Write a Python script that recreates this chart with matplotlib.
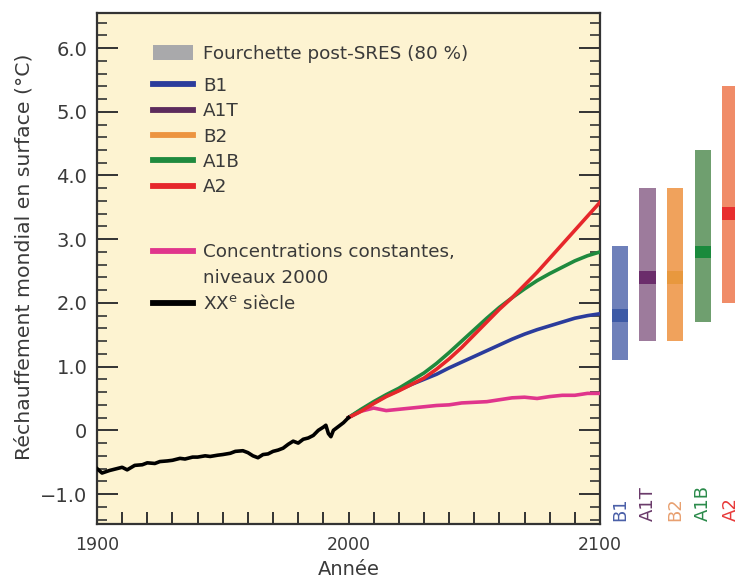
import matplotlib
matplotlib.use("Agg")
import matplotlib.pyplot as plt
from matplotlib.lines import Line2D
from matplotlib.patches import Patch
from matplotlib.ticker import MultipleLocator
import matplotlib.transforms as mtransforms

plt.rcParams['font.family'] = ['DejaVu Sans']
plt.rcParams['mathtext.fontset'] = 'dejavusans'
TXT = '#3a3a3a'

# ---------------- data ----------------
hist_years = [1900, 1902, 1905, 1908, 1910, 1912, 1915, 1918, 1920, 1923, 1925, 1928,
              1930, 1933, 1935, 1938, 1940, 1943, 1945, 1948, 1950, 1953, 1955, 1958,
              1960, 1962, 1964, 1966, 1968, 1970, 1972, 1974, 1976, 1978, 1980, 1982,
              1984, 1986, 1988, 1990, 1991, 1992, 1993, 1994, 1996, 1998, 2000]
hist_vals = [-0.60, -0.67, -0.63, -0.60, -0.58, -0.62, -0.55, -0.54, -0.51, -0.52, -0.49, -0.48,
             -0.47, -0.44, -0.45, -0.42, -0.42, -0.40, -0.41, -0.39, -0.38, -0.36, -0.33, -0.32,
             -0.35, -0.40, -0.43, -0.38, -0.37, -0.33, -0.31, -0.28, -0.22, -0.17, -0.20, -0.14,
             -0.12, -0.08, 0.00, 0.05, 0.08, -0.05, -0.10, 0.00, 0.06, 0.12, 0.20]

fut_years = [2000, 2005, 2010, 2015, 2020, 2025, 2030, 2035, 2040, 2045, 2050,
             2055, 2060, 2065, 2070, 2075, 2080, 2085, 2090, 2095, 2100]
a2_vals = [0.20, 0.30, 0.42, 0.53, 0.62, 0.72, 0.82, 0.96, 1.12, 1.30, 1.50,
           1.70, 1.90, 2.08, 2.28, 2.48, 2.70, 2.92, 3.14, 3.36, 3.58]
a1b_vals = [0.20, 0.33, 0.45, 0.56, 0.66, 0.78, 0.90, 1.05, 1.22, 1.40, 1.58,
            1.76, 1.93, 2.08, 2.22, 2.35, 2.46, 2.56, 2.66, 2.74, 2.80]
b1_vals = [0.20, 0.32, 0.43, 0.54, 0.63, 0.72, 0.80, 0.88, 0.98, 1.07, 1.16,
           1.25, 1.34, 1.43, 1.51, 1.58, 1.64, 1.70, 1.76, 1.80, 1.83]
const_vals = [0.20, 0.30, 0.35, 0.31, 0.33, 0.35, 0.37, 0.39, 0.40, 0.43, 0.44,
              0.45, 0.48, 0.51, 0.52, 0.50, 0.53, 0.55, 0.55, 0.58, 0.58]

scenarios = ['B1', 'A1T', 'B2', 'A1B', 'A2']
range_low = [1.1, 1.4, 1.4, 1.7, 2.0]
range_high = [2.9, 3.8, 3.8, 4.4, 5.4]
best_est = [1.8, 2.4, 2.4, 2.8, 3.4]

ytick_vals = [-1, 0, 1, 2, 3, 4, 5, 6]
ytick_labels = ['\u22121.0', '0', '1.0', '2.0', '3.0', '4.0', '5.0', '6.0']
xtick_vals = [1900, 2000, 2100]

# ---------------- styles ----------------
line_col = {'B1': '#2b3c9c', 'A1T': '#5c2b5c', 'B2': '#ec9440', 'A1B': '#1f8a3e',
            'A2': '#e6272b', 'const': '#e0358c', 'hist': '#000000'}
bar_col = ['#6e80ba', '#9d7b9c', '#f0a25c', '#6f9f6f', '#f08c68']
best_col = ['#3d5aa6', '#6b2d6b', '#e8983e', '#1a8a3c', '#e82e2e']
label_col = ['#4a5fa8', '#6a3a6a', '#e8a070', '#2a8a4a', '#e83a3a']

W, H = 735, 581
fig = plt.figure(figsize=(W / 100, H / 100), dpi=100)
fig.patch.set_facecolor('white')

ax = fig.add_axes([97 / W, (H - 524) / H, 503 / W, 511 / H])
ax.set_facecolor('#fdf3d1')
ylo, yhi = -1.47, 6.55
ax.set_xlim(1900, 2100)
ax.set_ylim(ylo, yhi)

lw = 2.6
ax.plot(fut_years, const_vals, color=line_col['const'], lw=lw, zorder=3)
ax.plot(fut_years, b1_vals, color=line_col['B1'], lw=lw, zorder=4)
ax.plot(fut_years, a1b_vals, color=line_col['A1B'], lw=lw, zorder=5)
ax.plot(fut_years, a2_vals, color=line_col['A2'], lw=lw, zorder=6)
ax.plot(hist_years, hist_vals, color=line_col['hist'], lw=lw, zorder=7)

# ticks
ax.set_xticks(xtick_vals)
ax.set_xticklabels([str(v) for v in xtick_vals])
ax.xaxis.set_minor_locator(MultipleLocator(10))
ax.set_yticks(ytick_vals)
ax.set_yticklabels(ytick_labels)
ax.yaxis.set_minor_locator(MultipleLocator(0.2))
ax.tick_params(axis='x', which='both', direction='in', length=9, width=1.4,
               top=False, bottom=True, colors='#333333', labelcolor=TXT,
               labelsize=12.5, pad=9)
ax.tick_params(axis='y', which='major', direction='in', length=15, width=1.4,
               left=True, right=True, colors='#333333', labelcolor=TXT,
               labelsize=14, pad=7)
ax.tick_params(axis='y', which='minor', direction='in', length=7, width=1.2,
               left=True, right=True, colors='#333333')
for sp in ax.spines.values():
    sp.set_linewidth(1.6)
    sp.set_color('#333333')

ax.set_xlabel('Année', fontsize=14, color=TXT, labelpad=4)
ax.set_ylabel('Réchauffement mondial en surface (°C)', fontsize=14.7, color=TXT)
ax.yaxis.set_label_coords(-0.127, 0.522)

# legend (two blocks: range patch, then scenario lines)
LFS = 13.2
leg1 = ax.legend([Patch(facecolor='#a9a9ab', edgecolor='none')],
                 ['Fourchette post-SRES (80 %)'],
                 loc='upper left', bbox_to_anchor=(0.111, 0.938),
                 frameon=False, borderpad=0, borderaxespad=0, handlelength=2.2,
                 handleheight=0.87, handletextpad=0.55, fontsize=LFS, labelcolor=TXT)
ax.add_artist(leg1)

handles = [Line2D([], [], color=line_col['B1'], lw=4.2),
           Line2D([], [], color=line_col['A1T'], lw=4.2),
           Line2D([], [], color=line_col['B2'], lw=4.2),
           Line2D([], [], color=line_col['A1B'], lw=4.2),
           Line2D([], [], color=line_col['A2'], lw=4.2),
           Line2D([], [], color='none', lw=0),
           Line2D([], [], color=line_col['const'], lw=4.2),
           Line2D([], [], color='none', lw=0),
           Line2D([], [], color=line_col['hist'], lw=4.2)]
labels = ['B1', 'A1T', 'B2', 'A1B', 'A2', '\n',
          'Concentrations constantes,', 'niveaux 2000', r'XX$^{\mathrm{e}}$ siècle']
leg2 = ax.legend(handles, labels, loc='upper left', bbox_to_anchor=(0.111, 0.875),
                 frameon=False, borderpad=0, borderaxespad=0, handlelength=2.2,
                 handleheight=0.7, handletextpad=0.55, labelspacing=0.40,
                 fontsize=LFS, labelcolor=TXT)
leg2.get_texts()[5].set_fontsize(11)

# bars axis (right)
bx = fig.add_axes([606 / W, (H - 524) / H, 166 / W, 511 / H])
bx.set_xlim(-0.5, 5.5)
bx.set_ylim(ylo, yhi)
bx.axis('off')
pos = list(range(len(scenarios)))
heights = [h - l for l, h in zip(range_low, range_high)]
bx.bar(pos, heights, bottom=range_low, width=0.58, color=bar_col, edgecolor='none')
bx.bar(pos, [0.2] * len(pos), bottom=[b - 0.1 for b in best_est], width=0.58,
       color=best_col, edgecolor='none')
trans = mtransforms.blended_transform_factory(bx.transData, bx.transAxes)
for p, s, c in zip(pos, scenarios, label_col):
    bx.text(p, 0.005, s, rotation=90, ha='center', va='bottom', color=c,
            fontsize=13, transform=trans)

fig.savefig('out.png', dpi=100)
